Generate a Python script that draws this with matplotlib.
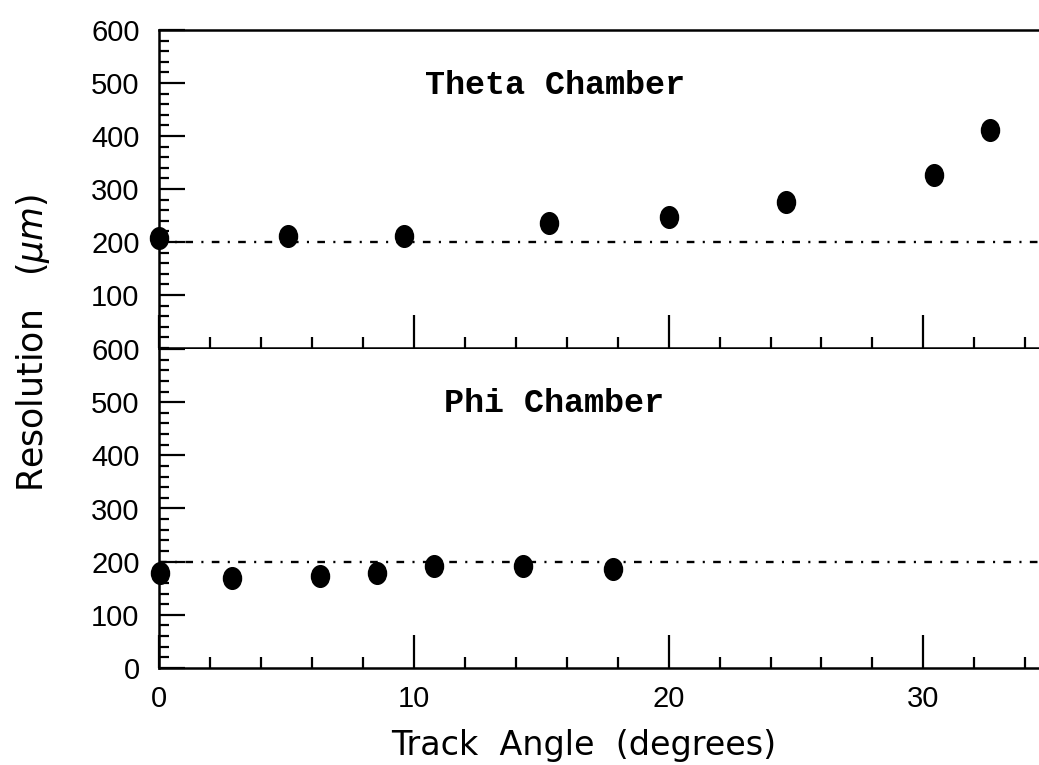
import matplotlib
matplotlib.use("Agg")
import matplotlib.pyplot as plt
from matplotlib.markers import MarkerStyle
from matplotlib.transforms import Affine2D
from matplotlib.ticker import MultipleLocator, FixedLocator

# resolution vs track angle, theta and phi chambers
theta_angle = [0.0, 5.07, 9.6, 15.3, 20.0, 24.6, 30.4, 32.6]
theta_res = [207, 211, 211, 236, 247, 275, 326, 411]
phi_angle = [0.05, 2.88, 6.32, 8.54, 10.8, 14.27, 17.8]
phi_res = [179, 169, 173, 179, 192, 192, 187]
ref_res = 200          # design resolution (dash-dot line)
x_max = 35
y_max = 600

plt.rcParams["font.family"] = ["Liberation Sans", "DejaVu Sans"]
plt.rcParams["lines.scale_dashes"] = False

W, H = 1039, 765
fig = plt.figure(figsize=(W / 100, H / 100), dpi=100)

# axes run a little past the right edge, so the right spine is cut off
px_per_deg = 25.48
left = 159 / W
width = x_max * px_per_deg / W
ax_top = fig.add_axes([left, 1 - 348 / H, width, 318 / H])
ax_bot = fig.add_axes([left, 1 - 668 / H, width, 319 / H], sharex=ax_top)

dot = MarkerStyle("o", transform=Affine2D().scale(1.0, 1.2))
dashdot = (0, (5.5, 6.0, 1.5, 6.0))

for ax, xs, ys, name, tx, ty in [
    (ax_top, theta_angle, theta_res, "Theta Chamber", 10.44, 480),
    (ax_bot, phi_angle, phi_res, "Phi Chamber", 11.2, 482),
]:
    ax.axhline(ref_res, color="black", lw=1.7, ls=dashdot, zorder=1)
    ax.plot(xs, ys, ls="none", marker=dot, ms=13, color="black",
            clip_on=False, zorder=3)
    ax.text(tx, ty, name, family="Liberation Mono", fontweight="bold",
            fontsize=24, va="baseline", ha="left")
    ax.set_xlim(0, x_max)
    ax.set_ylim(0, y_max)
    ax.yaxis.set_major_locator(MultipleLocator(100))
    ax.yaxis.set_minor_locator(MultipleLocator(20))
    ax.xaxis.set_major_locator(MultipleLocator(10))
    ax.xaxis.set_minor_locator(MultipleLocator(2))
    ax.tick_params(axis="both", which="both", direction="in", width=1.6,
                   top=False, right=False, labelsize=21)
    ax.tick_params(axis="y", which="major", length=19, pad=14)
    ax.tick_params(axis="y", which="minor", length=7)
    ax.tick_params(axis="x", which="major", length=24, pad=12)
    ax.tick_params(axis="x", which="minor", length=8)
    for side in ("left", "bottom", "top"):
        ax.spines[side].set_linewidth(1.8)
    ax.spines["right"].set_visible(False)

ax_bot.spines["top"].set_visible(False)
ax_top.tick_params(axis="x", labelbottom=False)
ax_top.yaxis.set_major_locator(FixedLocator([100, 200, 300, 400, 500, 600]))

ax_bot.set_xlabel("Track  Angle  (degrees)", fontsize=24,
                  family=["DejaVu Sans"])
ax_bot.xaxis.set_label_coords((583.5 - 159) / (x_max * px_per_deg), -0.19)
fig.text(33 / W, 1 - 343 / H, r"Resolution   ($\mu m$)", rotation=90,
         fontsize=25, family=["DejaVu Sans"], ha="center", va="center")

fig.savefig("out.png", dpi=100)
